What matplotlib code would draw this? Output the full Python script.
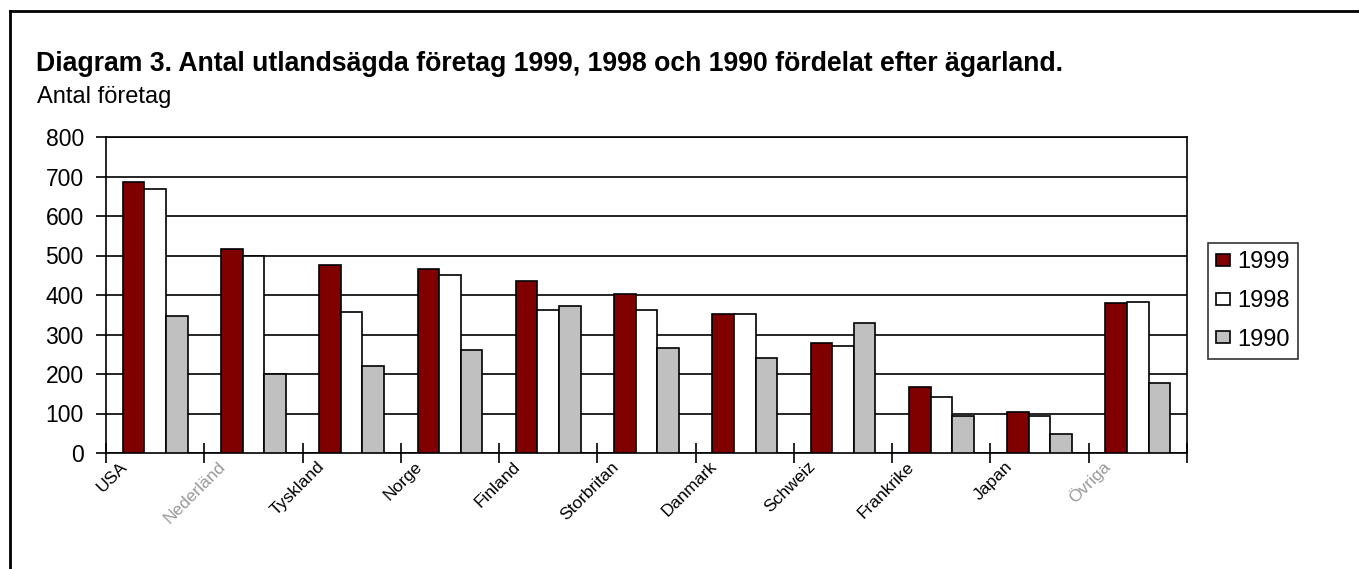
import numpy as np
import matplotlib.pyplot as plt
import matplotlib.transforms as mtransforms
from matplotlib.lines import Line2D

plt.rcParams["font.family"] = ["Liberation Sans", "DejaVu Sans"]

# data
countries = ["USA", "Nederländ", "Tyskland", "Norge", "Finland", "Storbritan",
             "Danmark", "Schweiz", "Frankrike", "Japan", "Övriga"]
y1999 = [687, 516, 475, 466, 435, 403, 353, 278, 166, 104, 379]
y1998 = [668, 500, 358, 450, 363, 363, 353, 272, 141, 94, 383]
y1990 = [348, 200, 221, 262, 373, 267, 241, 328, 94, 48, 176]

fig = plt.figure(figsize=(13.59, 5.69), dpi=100)
ax = fig.add_axes([106/1359, 1-453/569, (1187-106)/1359, (453-137)/569])

x = np.arange(len(countries))
w = 0.22
ax.bar(x - w, y1999, w, color="#800000", edgecolor="black", lw=1.2, label="1999", zorder=3)
ax.bar(x, y1998, w, color="white", edgecolor="black", lw=1.2, label="1998", zorder=3)
ax.bar(x + w, y1990, w, color="#c0c0c0", edgecolor="black", lw=1.2, label="1990", zorder=3)

ax.set_xlim(-0.5, len(countries) - 0.5)
ax.set_ylim(0, 800)
ax.set_yticks(range(0, 801, 100))
ax.yaxis.grid(True, color="black", lw=1.2)
ax.set_axisbelow(True)
for s in ax.spines.values():
    s.set_linewidth(1.2)
ax.tick_params(axis="y", labelsize=16.5, length=7, width=1.2, pad=9)

# category boundaries carry the tick marks
ax.set_xticks(np.arange(len(countries) + 1) - 0.5, minor=True)
ax.tick_params(axis="x", which="minor", direction="inout", length=14, width=1.2)
ax.set_xticks(x)
ax.set_xticklabels(countries, rotation=45, ha="right", va="center",
                   rotation_mode="anchor", fontsize=12.5)
ax.tick_params(axis="x", which="major", length=0, pad=8)
offset = mtransforms.ScaledTranslation(-0.30, 0, fig.dpi_scale_trans)
for i, lab in enumerate(ax.get_xticklabels()):
    lab.set_transform(lab.get_transform() + offset)
    if countries[i] in ("Nederländ", "Övriga"):
        lab.set_color("#999999")

fig.text(36/1359, 1-71/569, "Diagram 3. Antal utlandsägda företag 1999, 1998 och 1990 fördelat efter ägarland.",
         fontsize=19.2, fontweight="bold", va="baseline")
fig.text(37/1359, 1-103/569, "Antal företag", fontsize=17, va="baseline")

leg = ax.legend(loc="center left", bbox_to_anchor=(1208/1359, 1-301/569),
                bbox_transform=fig.transFigure, fontsize=17, frameon=True,
                fancybox=False, edgecolor="black", handlelength=0.6,
                handleheight=0.4, handletextpad=0.3, labelspacing=0.7,
                borderpad=0.35, borderaxespad=0)
leg.get_frame().set_linewidth(1.2)

# outer frame
fig.add_artist(Line2D([10/1359, 1], [1-11/569, 1-11/569], color="black", lw=2))
fig.add_artist(Line2D([10/1359, 10/1359], [0, 1-11/569], color="black", lw=2))

fig.savefig("out.png", dpi=100)
